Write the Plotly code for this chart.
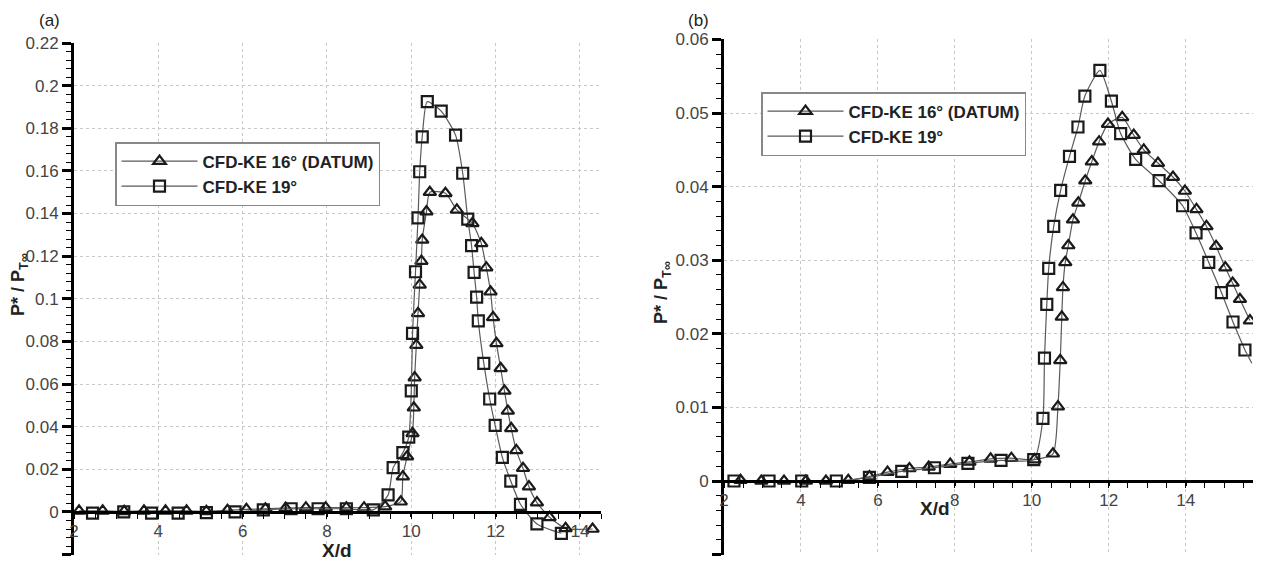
import plotly.graph_objects as go

# ---------------- Panel (a) ----------------
a_datum_x = [2.12, 2.68, 3.19, 3.66, 4.17, 4.67, 5.14, 5.64, 6.09, 6.54, 7.02, 7.5, 7.97, 8.46, 8.88, 9.38,
             9.75, 9.8, 9.9, 10.03, 10.06, 10.08, 10.12, 10.16, 10.2, 10.24, 10.26, 10.36, 10.44, 10.81,
             11.08, 11.45, 11.66, 11.78, 11.88, 11.94, 12.02, 12.12, 12.21, 12.29, 12.37, 12.49, 12.65,
             12.79, 12.98, 13.28, 13.66, 14.3]
a_datum_y = [0.0005, 0.0005, 0.0003, 0.0005, 0.0005, 0.0005, 0.0003, 0.0008, 0.0012, 0.0015, 0.0018, 0.002,
             0.002, 0.002, 0.002, 0.0025,
             0.0048, 0.0166, 0.026, 0.0369, 0.0489, 0.063, 0.0783, 0.0932, 0.1065, 0.1177, 0.1276, 0.1409,
             0.150, 0.1495, 0.1417, 0.1354, 0.126, 0.1146, 0.1033, 0.0913, 0.0791, 0.0674, 0.0568, 0.0474,
             0.0392, 0.0289, 0.0205, 0.0119, 0.0044, -0.0025, -0.0077, -0.008]

a_19_x = [2.44, 3.18, 3.84, 4.47, 5.14, 5.82, 6.49, 7.15, 7.79, 8.46, 9.1, 9.45, 9.57, 9.8, 9.94, 10.0,
          10.03, 10.1, 10.16, 10.2, 10.26, 10.38, 10.71, 11.05, 11.22, 11.34, 11.43, 11.49, 11.55, 11.59,
          11.72, 11.86, 11.99, 12.16, 12.36, 12.59, 12.98, 13.56]
a_19_y = [-0.0005, 0.0, -0.0005, -0.0005, -0.0003, 0.0, 0.001, 0.0015, 0.0015, 0.0015, 0.001, 0.008, 0.0208,
          0.0278, 0.0351, 0.0568, 0.0838, 0.1127, 0.138, 0.1596, 0.176, 0.1925, 0.188, 0.1768, 0.1589,
          0.1374, 0.1249, 0.1124, 0.1008, 0.0896, 0.0697, 0.053, 0.0406, 0.0256, 0.0145, 0.0036, -0.0056, -0.010]

a_xticks = [2, 4, 6, 8, 10, 12, 14]
a_xticktext = ["2", "4", "6", "8", "10", "12", "14"]
a_yticks = [-0.02, 0, 0.02, 0.04, 0.06, 0.08, 0.1, 0.12, 0.14, 0.16, 0.18, 0.2, 0.22]
a_yticktext = ["-0.02", "0", "0.02", "0.04", "0.06", "0.08", "0.1", "0.12", "0.14", "0.16", "0.18", "0.2", "0.22"]

# ---------------- Panel (b) ----------------
b_datum_x = [2.43, 2.97, 3.56, 4.13, 4.65, 5.23, 5.78, 6.25, 6.82, 7.32, 7.88, 8.38, 8.93, 9.47, 10.07,
             10.55, 10.68, 10.74, 10.78, 10.81, 10.87, 10.95, 11.07, 11.21, 11.39, 11.56, 11.75, 11.98,
             12.35, 12.65, 12.91, 13.28, 13.67, 13.98, 14.28, 14.54, 14.79, 15.03, 15.22, 15.41, 15.67]
b_datum_y = [0.0001, 0.0, 0.0, 0.0, 0.0, 0.0001, 0.0006, 0.0012, 0.0017, 0.0019, 0.0023, 0.0026, 0.003,
             0.0031, 0.0029, 0.0037, 0.0101, 0.0164, 0.0223, 0.0263, 0.0297, 0.032, 0.0355, 0.0378, 0.0408,
             0.0434, 0.0461, 0.0485, 0.0494, 0.047, 0.045, 0.0432, 0.0413, 0.0394, 0.0369, 0.0346, 0.0319,
             0.029, 0.0269, 0.0247, 0.0218]

b_19_x = [2.26, 3.17, 4.02, 4.92, 5.78, 6.62, 7.47, 8.34, 9.2, 10.05, 10.29, 10.33, 10.39, 10.44, 10.57,
          10.75, 10.98, 11.2, 11.38, 11.77, 12.07, 12.31, 12.7, 13.31, 13.92, 14.27, 14.6, 14.93, 15.23,
          15.54]
b_19_y = [0.0, 0.0, 0.0, 0.0, 0.0005, 0.0013, 0.0018, 0.0024, 0.0028, 0.0029, 0.0085, 0.0167, 0.024, 0.0289,
          0.0346, 0.0395, 0.0441, 0.0481, 0.0523, 0.0558, 0.0516, 0.0472, 0.0437, 0.0408, 0.0374, 0.0337,
          0.0297, 0.0256, 0.0216, 0.0178]
# unmarked tail of the 19° curve in panel (b)
b_19_tail_x = [15.54, 15.72]
b_19_tail_y = [0.0178, 0.016]

b_xticks = [2, 4, 6, 8, 10, 12, 14]
b_xticktext = ["2", "4", "6", "8", "10", "12", "14"]
b_yticks = [-0.01, 0, 0.01, 0.02, 0.03, 0.04, 0.05, 0.06]
b_yticktext = ["-0.01", "0", "0.01", "0.02", "0.03", "0.04", "0.05", "0.06"]

series_names = ["<b>CFD-KE 16° (DATUM)</b>", "<b>CFD-KE 19°</b>"]

FONT = "Liberation Sans, Arial, sans-serif"
LINE_COL = "#5a5a5a"
MK_COL = "#1a1a1a"

fig = go.Figure()


def add_series(x, y, symbol, name, xa, ya, legend):
    fig.add_trace(go.Scatter(
        x=x, y=y, mode="lines+markers", name=name, xaxis=xa, yaxis=ya, legend=legend,
        line=dict(color=LINE_COL, width=1.2, shape="spline", smoothing=0.6),
        marker=dict(symbol=symbol, size=11, color=MK_COL, line=dict(color=MK_COL, width=2.2)),
    ))


add_series(a_datum_x, a_datum_y, "triangle-up-open", series_names[0], "x", "y", "legend")
add_series(a_19_x, a_19_y, "square-open", series_names[1], "x", "y", "legend")
add_series(b_datum_x, b_datum_y, "triangle-up-open", series_names[0], "x2", "y2", "legend2")
add_series(b_19_x, b_19_y, "square-open", series_names[1], "x2", "y2", "legend2")
fig.add_trace(go.Scatter(x=b_19_tail_x, y=b_19_tail_y, mode="lines", xaxis="x2", yaxis="y2",
                         showlegend=False, hoverinfo="skip",
                         line=dict(color=LINE_COL, width=1.2)))

# page body has an 8px margin: figure is drawn at (8, 8) in the window
OFF = 8
W, H = 1265 - OFF, 564 - OFF
# plot area in window pixels: x 74..1257, y 38..556
PL, PR, PT, PB = 74, 1257, 38, 556
ML, MT = PL - OFF, PT - OFF
MR, MB = W - (PR - OFF), H - (PB - OFF)
PW, PH = PR - PL, PB - PT


def px_x(p):
    return (p - PL) / PW


def px_y(p):
    return (PB - p) / PH


tickfont = dict(family=FONT, size=17, color="#444444")

xcommon = dict(
    showline=True, linewidth=3, linecolor="black",
    ticks="outside", ticklen=3, tickwidth=2, tickcolor="black",
    minor=dict(dtick=0.5, ticks="outside", ticklen=5, tickwidth=1.2, tickcolor="black", showgrid=False),
    showgrid=True, gridcolor="#c8c8c8", griddash="dot", gridwidth=1,
    zeroline=False, tickfont=tickfont, anchor="free",
)
ycommon = dict(
    showline=True, linewidth=3, linecolor="black",
    ticks="outside", ticklen=9, tickwidth=2.5, tickcolor="black",
    showgrid=True, gridcolor="#c8c8c8", griddash="dot", gridwidth=1,
    zeroline=False, tickfont=tickfont,
)

legcommon = dict(xanchor="left", yanchor="top",
                 bgcolor="white", bordercolor="#888888", borderwidth=1.5,
                 font=dict(family=FONT, size=17, color="#222222"), itemwidth=76,
                 tracegroupgap=0)

fig.update_layout(
    width=W, height=H,
    margin=dict(l=ML, r=MR, t=MT, b=MB, pad=0),
    paper_bgcolor="white", plot_bgcolor="white",
    showlegend=True,
    xaxis=dict(xcommon, domain=[0, px_x(601)], range=[2, 14.5],
               tickvals=a_xticks, ticktext=a_xticktext, position=px_y(512)),
    yaxis=dict(ycommon, domain=[px_y(554.6), px_y(43)], range=[-0.02, 0.22], anchor="x",
               tickvals=a_yticks, ticktext=a_yticktext,
               minor=dict(dtick=0.004, tick0=0, ticks="outside", ticklen=5, tickwidth=1.2,
                          tickcolor="black", showgrid=False)),
    xaxis2=dict(xcommon, domain=[px_x(724), px_x(1253)], range=[2, 15.75],
                tickvals=b_xticks, ticktext=b_xticktext, position=px_y(481)),
    yaxis2=dict(ycommon, domain=[px_y(554.6), px_y(39.4)], range=[-0.01, 0.06], anchor="x2",
                tickvals=b_yticks, ticktext=b_yticktext,
                minor=dict(dtick=0.002, tick0=0, ticks="outside", ticklen=5, tickwidth=1.2,
                           tickcolor="black", showgrid=False)),
    legend=dict(legcommon, x=px_x(115), y=px_y(142)),
    legend2=dict(legcommon, x=px_x(761), y=px_y(92)),
)

ann = [
    dict(text="<b>P* / P<sub>T∞</sub></b>", x=px_x(19), y=px_y(285), textangle=-90,
         font=dict(family=FONT, size=18, color="#222222")),
    dict(text="<b>P* / P<sub>T∞</sub></b>", x=px_x(662), y=px_y(293), textangle=-90,
         font=dict(family=FONT, size=18, color="#222222")),
    dict(text="<b>X/d</b>", x=px_x(337), y=px_y(550),
         font=dict(family=FONT, size=19, color="#222222")),
    dict(text="<b>X/d</b>", x=px_x(935), y=px_y(508),
         font=dict(family=FONT, size=19, color="#222222")),
    dict(text="(a)", x=px_x(49), y=px_y(21), font=dict(family=FONT, size=17, color="#222222")),
    dict(text="(b)", x=px_x(698), y=px_y(21), font=dict(family=FONT, size=17, color="#222222")),
]
for a in ann:
    a.update(xref="paper", yref="paper", showarrow=False, xanchor="center", yanchor="middle")
    fig.add_annotation(**a)

fig.write_html("out.html")
